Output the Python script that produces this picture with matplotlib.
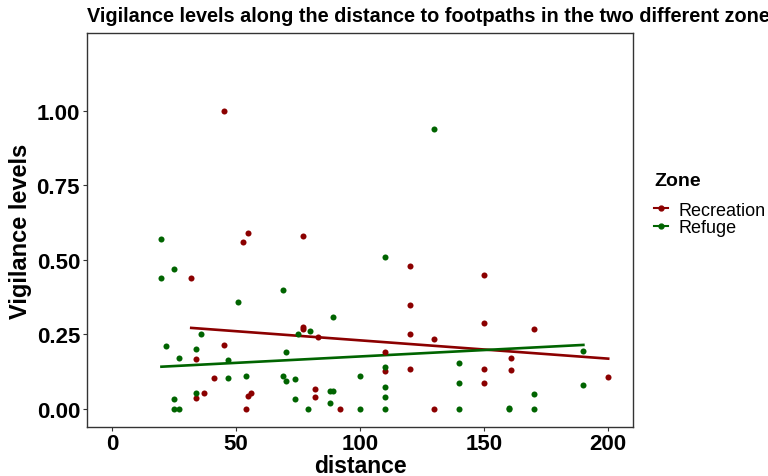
import numpy as np
import matplotlib
matplotlib.use("Agg")
import matplotlib.pyplot as plt
from matplotlib.lines import Line2D

plt.rcParams['font.family'] = ['Liberation Sans', 'DejaVu Sans']

# Recreation zone (distance, vigilance)
rec_dist = [45, 55, 53, 32, 45, 34, 41, 37, 34, 55, 56, 54,
            77, 120, 120, 77, 77, 83, 120, 130, 110, 110, 120, 82, 82, 92, 130,
            150, 150, 170, 161, 150, 161, 150, 200]
rec_vig = [1.0, 0.59, 0.56, 0.44, 0.215, 0.167, 0.103, 0.055, 0.036, 0.045, 0.053, 0.0,
           0.58, 0.48, 0.35, 0.276, 0.268, 0.24, 0.25, 0.236, 0.19, 0.127, 0.134, 0.067, 0.04, 0.0, 0.0,
           0.45, 0.29, 0.27, 0.17, 0.135, 0.13, 0.086, 0.106]

# Refuge zone
ref_dist = [20, 25, 20, 69, 51, 36, 22, 34, 27, 47, 70, 47, 54, 69, 70, 34, 25, 25, 27,
            130, 110, 89, 75, 80, 110, 74, 100, 88, 89, 74, 88, 110, 110, 79, 100, 110,
            190, 140, 140, 190, 170, 140, 160, 160, 170]
ref_vig = [0.57, 0.47, 0.44, 0.40, 0.36, 0.25, 0.21, 0.20, 0.17, 0.165, 0.19, 0.105, 0.11, 0.11, 0.095, 0.055, 0.035, 0.0, 0.0,
           0.94, 0.51, 0.31, 0.25, 0.26, 0.14, 0.10, 0.11, 0.06, 0.06, 0.035, 0.022, 0.073, 0.04, 0.0, 0.0, 0.0,
           0.195, 0.153, 0.086, 0.08, 0.05, 0.0, 0.0, 0.005, 0.0]

# model trend lines (predicted values)
rec_fit_dist = [32, 200]
rec_fit_vig = [0.272, 0.169]
ref_fit_dist = [20, 190]
ref_fit_vig = [0.142, 0.215]

zones = ["Recreation", "Refuge"]
colors = {"Recreation": "#8b0000", "Refuge": "#006400"}
series = {"Recreation": (rec_dist, rec_vig), "Refuge": (ref_dist, ref_vig)}
fits = {"Recreation": (rec_fit_dist, rec_fit_vig), "Refuge": (ref_fit_dist, ref_fit_vig)}

fig = plt.figure(figsize=(7.68, 4.77), dpi=100)
ax = fig.add_axes([87/768, 1 - 428/477, (633 - 87)/768, (428 - 34)/477])

for z in zones:
    ax.scatter(series[z][0], series[z][1], s=19, color=colors[z], linewidths=0, zorder=3)
    ax.plot(fits[z][0], fits[z][1], color=colors[z], lw=1.9, zorder=2)

ax.set_xlim(-10, 210)
ax.set_ylim(-0.06, 1.26)
ax.set_xticks([0, 50, 100, 150, 200])
ax.set_yticks([0, 0.25, 0.5, 0.75, 1.0])
ax.set_yticklabels(["0.00", "0.25", "0.50", "0.75", "1.00"])
for lab in ax.get_xticklabels() + ax.get_yticklabels():
    lab.set_fontweight("bold")
    lab.set_fontsize(16)
ax.tick_params(length=3, width=0.8, color="#333333", pad=2)
ax.tick_params(axis="x", pad=1.5)
for sp in ax.spines.values():
    sp.set_color("#333333")
    sp.set_linewidth(1.0)

ax.set_xlabel("distance", fontsize=16.5, fontweight="bold", labelpad=-0.5)
ax.set_ylabel("Vigilance levels", fontsize=17, fontweight="bold", labelpad=3)

fig.text(87/768, 1 - 17/477, "Vigilance levels along the distance to footpaths in the two different zones",
         fontsize=14.3, fontweight="bold", va="center", ha="left")

handles = [Line2D([], [], color=colors[z], lw=1.5, marker="o", markersize=3.5) for z in zones]
leg = fig.legend(handles, zones, title="Zone", loc="upper left", bbox_to_anchor=(654/768, 1 - 173/477),
                 frameon=False, fontsize=13, handlelength=0.8, handletextpad=0.55,
                 labelspacing=0.05, borderaxespad=0, borderpad=0)
leg.get_title().set_fontweight("bold")
leg.get_title().set_fontsize(14)
leg._legend_box.align = "left"
leg._legend_box.sep = 9

fig.savefig("out.png", dpi=100)
